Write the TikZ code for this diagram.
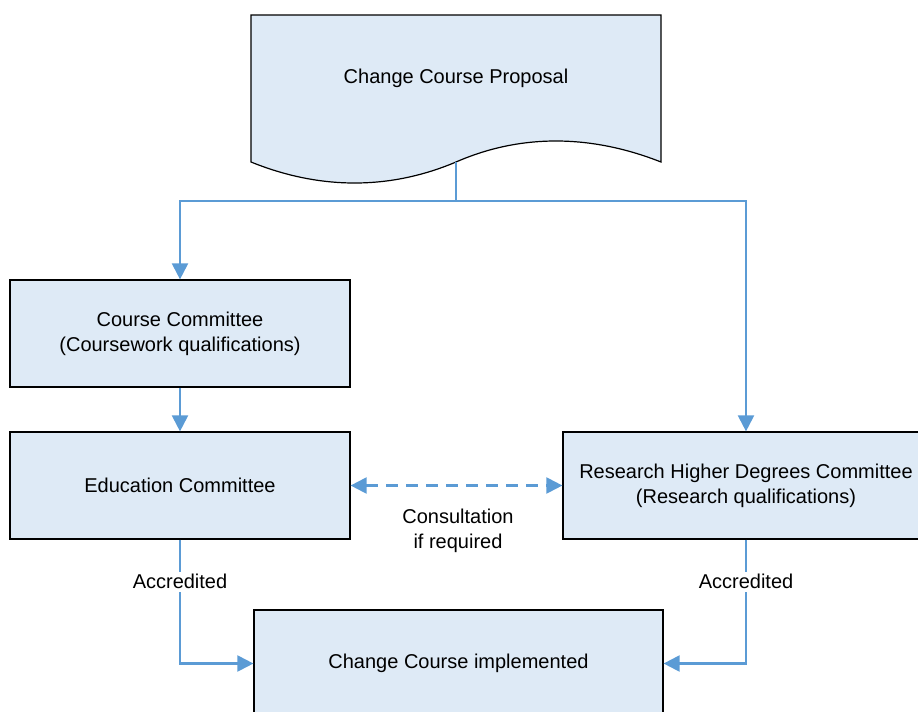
\documentclass[tikz,border=0pt]{standalone}
\usepackage{fontspec}
\setmainfont{Liberation Sans}
\usetikzlibrary{arrows.meta}
\definecolor{boxfill}{HTML}{DEEAF6}
\definecolor{link}{HTML}{5B9BD5}
\begin{document}
\begin{tikzpicture}[x=0.75pt,y=-0.75pt,
  every node/.style={font=\fontsize{15}{18.75}\selectfont, align=center, inner sep=0pt},
  stepbox/.style={draw=black, fill=boxfill, line width=0.9pt, rectangle},
  conn/.style={draw=link, line width=1.6pt},
  tip/.style={-{Triangle[length=12pt,width=12pt]}},
  tips/.style={{Triangle[length=12pt,width=12pt]}-{Triangle[length=12pt,width=12pt]}},
  lbl/.style={fill=white, inner sep=2pt}]
\clip (0,0) rectangle (918,711);

% proposal document shape with wavy lower edge
\draw[line width=0.9pt, fill=boxfill]
  (251,162) -- (251,15) -- (661,15) -- (661,162)
  .. controls (590,134) and (520,134) .. (456,162)
  .. controls (390,190) and (320,190) .. (251,162) -- cycle;
\node (prop) at (456,78) {Change Course Proposal};
\coordinate (propbot) at (456,162);
\coordinate (split) at (456,201);

% committees
\node[stepbox, minimum width=255pt, minimum height=80.25pt] (cc) at (180,333.5)
  {Course Committee\\(Coursework qualifications)};
\node[stepbox, minimum width=255pt, minimum height=80.25pt] (ed) at (180,485.5)
  {Education Committee};
\node[stepbox, minimum width=274.5pt, minimum height=80.25pt] (rhd) at (746,485.5)
  {Research Higher Degrees Committee\\(Research qualifications)};
\node[stepbox, minimum width=306.75pt, minimum height=80.25pt] (impl) at (458.5,663.5)
  {Change Course implemented};

% connectors
\draw[conn] (propbot) -- (split);
\draw[conn, tip] (split) -| (cc.north);
\draw[conn, tip] (split) -| (rhd.north);
\draw[conn, tip] (cc.south) -- (ed.north);
\draw[conn, tips, dash pattern=on 9pt off 6pt] (ed.east) -- (rhd.west);
\node (consult) at (458,531) {Consultation\\if required};

\draw[conn, tip] (ed.south) |- node[lbl, pos=0.17] (accl) {Accredited} (impl.west);
\draw[conn, tip] (rhd.south) |- node[lbl, pos=0.17] (accr) {Accredited} (impl.east);
\end{tikzpicture}
\end{document}
